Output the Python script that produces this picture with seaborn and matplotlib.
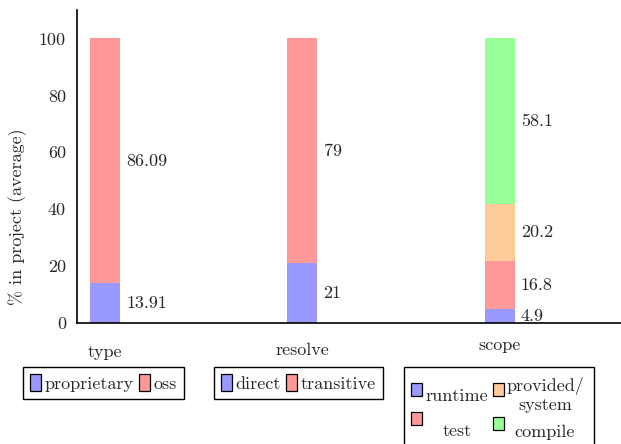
import matplotlib
matplotlib.use("Agg")
import matplotlib.pyplot as plt
import matplotlib.transforms as mtransforms
from matplotlib.patches import Rectangle
import seaborn as sns
import pandas as pd

# ---- data ----
categories = ["type", "resolve", "scope"]
type_segments = ["proprietary", "oss"]
type_values = [13.91, 86.09]
resolve_segments = ["direct", "transitive"]
resolve_values = [21, 79]
scope_segments = ["runtime", "test", "provided/\nsystem", "compile"]
scope_values = [4.9, 16.8, 20.2, 58.1]
value_labels = {
    "type": ["13.91", "86.09"],
    "resolve": ["21", "79"],
    "scope": ["4.9", "16.8", "20.2", "58.1"],
}
yticks = [0, 20, 40, 60, 80, 100]
ylabel = "% in project (average)"

palette = {
    "proprietary": "#9999ff", "oss": "#ff9999",
    "direct": "#9999ff", "transitive": "#ff9999",
    "runtime": "#9999ff", "test": "#ff9999",
    "provided/\nsystem": "#ffcc99", "compile": "#99ff99",
}

segs = {"type": (type_segments, type_values),
        "resolve": (resolve_segments, resolve_values),
        "scope": (scope_segments, scope_values)}

rows = []
for cat in categories:
    names, vals = segs[cat]
    bottom = 0.0
    for lvl, (n, v) in enumerate(zip(names, vals)):
        rows.append(dict(cat=cat, seg=n, level=lvl, value=v,
                         bottom=bottom, top=bottom + v,
                         label=value_labels[cat][lvl]))
        bottom += v
df = pd.DataFrame(rows)

# ---- style ----
sns.set_style("white")
plt.rcParams["font.family"] = ["cmr10", "DejaVu Serif"]
plt.rcParams["mathtext.fontset"] = "cm"
plt.rcParams["axes.unicode_minus"] = False
plt.rcParams["axes.formatter.use_mathtext"] = True
FS = 13
W, H = 621, 444


def fx(x):
    return x / W


def fy(y):
    return 1 - y / H


fig = plt.figure(figsize=(W / 100, H / 100), dpi=100)
ax = fig.add_axes([fx(77), fy(323), 1 - fx(77), (323 - 10) / H])

bar_w = 0.152
for lvl in sorted(df["level"].unique(), reverse=True):
    sub = df[df["level"] == lvl]
    sns.barplot(data=sub, x="cat", y="top", hue="seg", order=categories,
                palette=palette, dodge=False, width=bar_w, saturation=1,
                errorbar=None, legend=False, ax=ax, linewidth=0)

# value labels
for _, r in df.iterrows():
    xi = categories.index(r["cat"])
    ax.text(xi + 0.107, (r["bottom"] + r["top"]) / 2, r["label"],
            ha="left", va="center", fontsize=FS)

ax.set_xlim(-0.142, 2.614)
ax.set_ylim(0, 110)
ax.set_yticks(yticks)
ax.set_yticklabels([str(t) for t in yticks], fontsize=FS)
ax.tick_params(axis="y", length=0, pad=8)
ax.set_xticks([0])
ax.set_xticklabels([""])
ax.tick_params(axis="x", length=5, color="#aaaaaa", width=1)
ax.set_xlabel("")
ax.set_ylabel("")
for s in ["top", "right"]:
    ax.spines[s].set_visible(False)
for s in ["left", "bottom"]:
    ax.spines[s].set_color("black")
    ax.spines[s].set_linewidth(1.2)

fig.text(fx(18), fy(217), ylabel, rotation=90, ha="center",
         va="center", fontsize=FS)

# category titles
trans = mtransforms.blended_transform_factory(ax.transData, fig.transFigure)
title_y = {"type": 352, "resolve": 350, "scope": 345}
for i, cat in enumerate(categories):
    ax.text(i, fy(title_y[cat]), cat, transform=trans, ha="center",
            va="center", fontsize=FS, clip_on=False)


# legends for type and resolve
def handles_for(names):
    return [Rectangle((0, 0), 1, 1, facecolor=palette[n], edgecolor="black",
                      linewidth=0.9) for n in names]


common = dict(fontsize=FS, frameon=True, fancybox=False, edgecolor="black",
              framealpha=1, borderaxespad=0, handlelength=0.6,
              handleheight=1.05, handletextpad=0.2, columnspacing=0.3,
              borderpad=0.4, loc="upper left")

l1 = fig.legend(handles_for(type_segments), type_segments, ncol=2,
                bbox_to_anchor=(fx(23), fy(367)), **common)
l2 = fig.legend(handles_for(resolve_segments), resolve_segments, ncol=2,
                bbox_to_anchor=(fx(214), fy(367)), **common)
for lg in (l1, l2):
    lg.get_frame().set_linewidth(1.0)

# scope legend: 2x2 grid with centred labels (as in the original)
fig.add_artist(Rectangle((fx(404), fy(452)), fx(594) - fx(404),
                         fy(367) - fy(452), transform=fig.transFigure,
                         facecolor="white", edgecolor="black", linewidth=1.0,
                         clip_on=False))
# (segment, handle left, handle top, text x, text baseline y of last line, ha)
scope_layout = [
    ("runtime", 411, 383, 426, 401, "left"),
    ("test", 411, 412, 457, 436, "center"),
    ("provided/\nsystem", 493, 383, 545, 410, "center"),
    ("compile", 493, 417, 545, 437, "center"),
]
for name, hx, hy, tx, ty, ha in scope_layout:
    fig.add_artist(Rectangle((fx(hx), fy(hy + 13)), fx(11), 13 / H,
                             transform=fig.transFigure,
                             facecolor=palette[name], edgecolor="black",
                             linewidth=0.9))
    fig.text(fx(tx), fy(ty), name, ha=ha, va="baseline", fontsize=FS,
             multialignment="center")

fig.savefig("out.png", dpi=100)
